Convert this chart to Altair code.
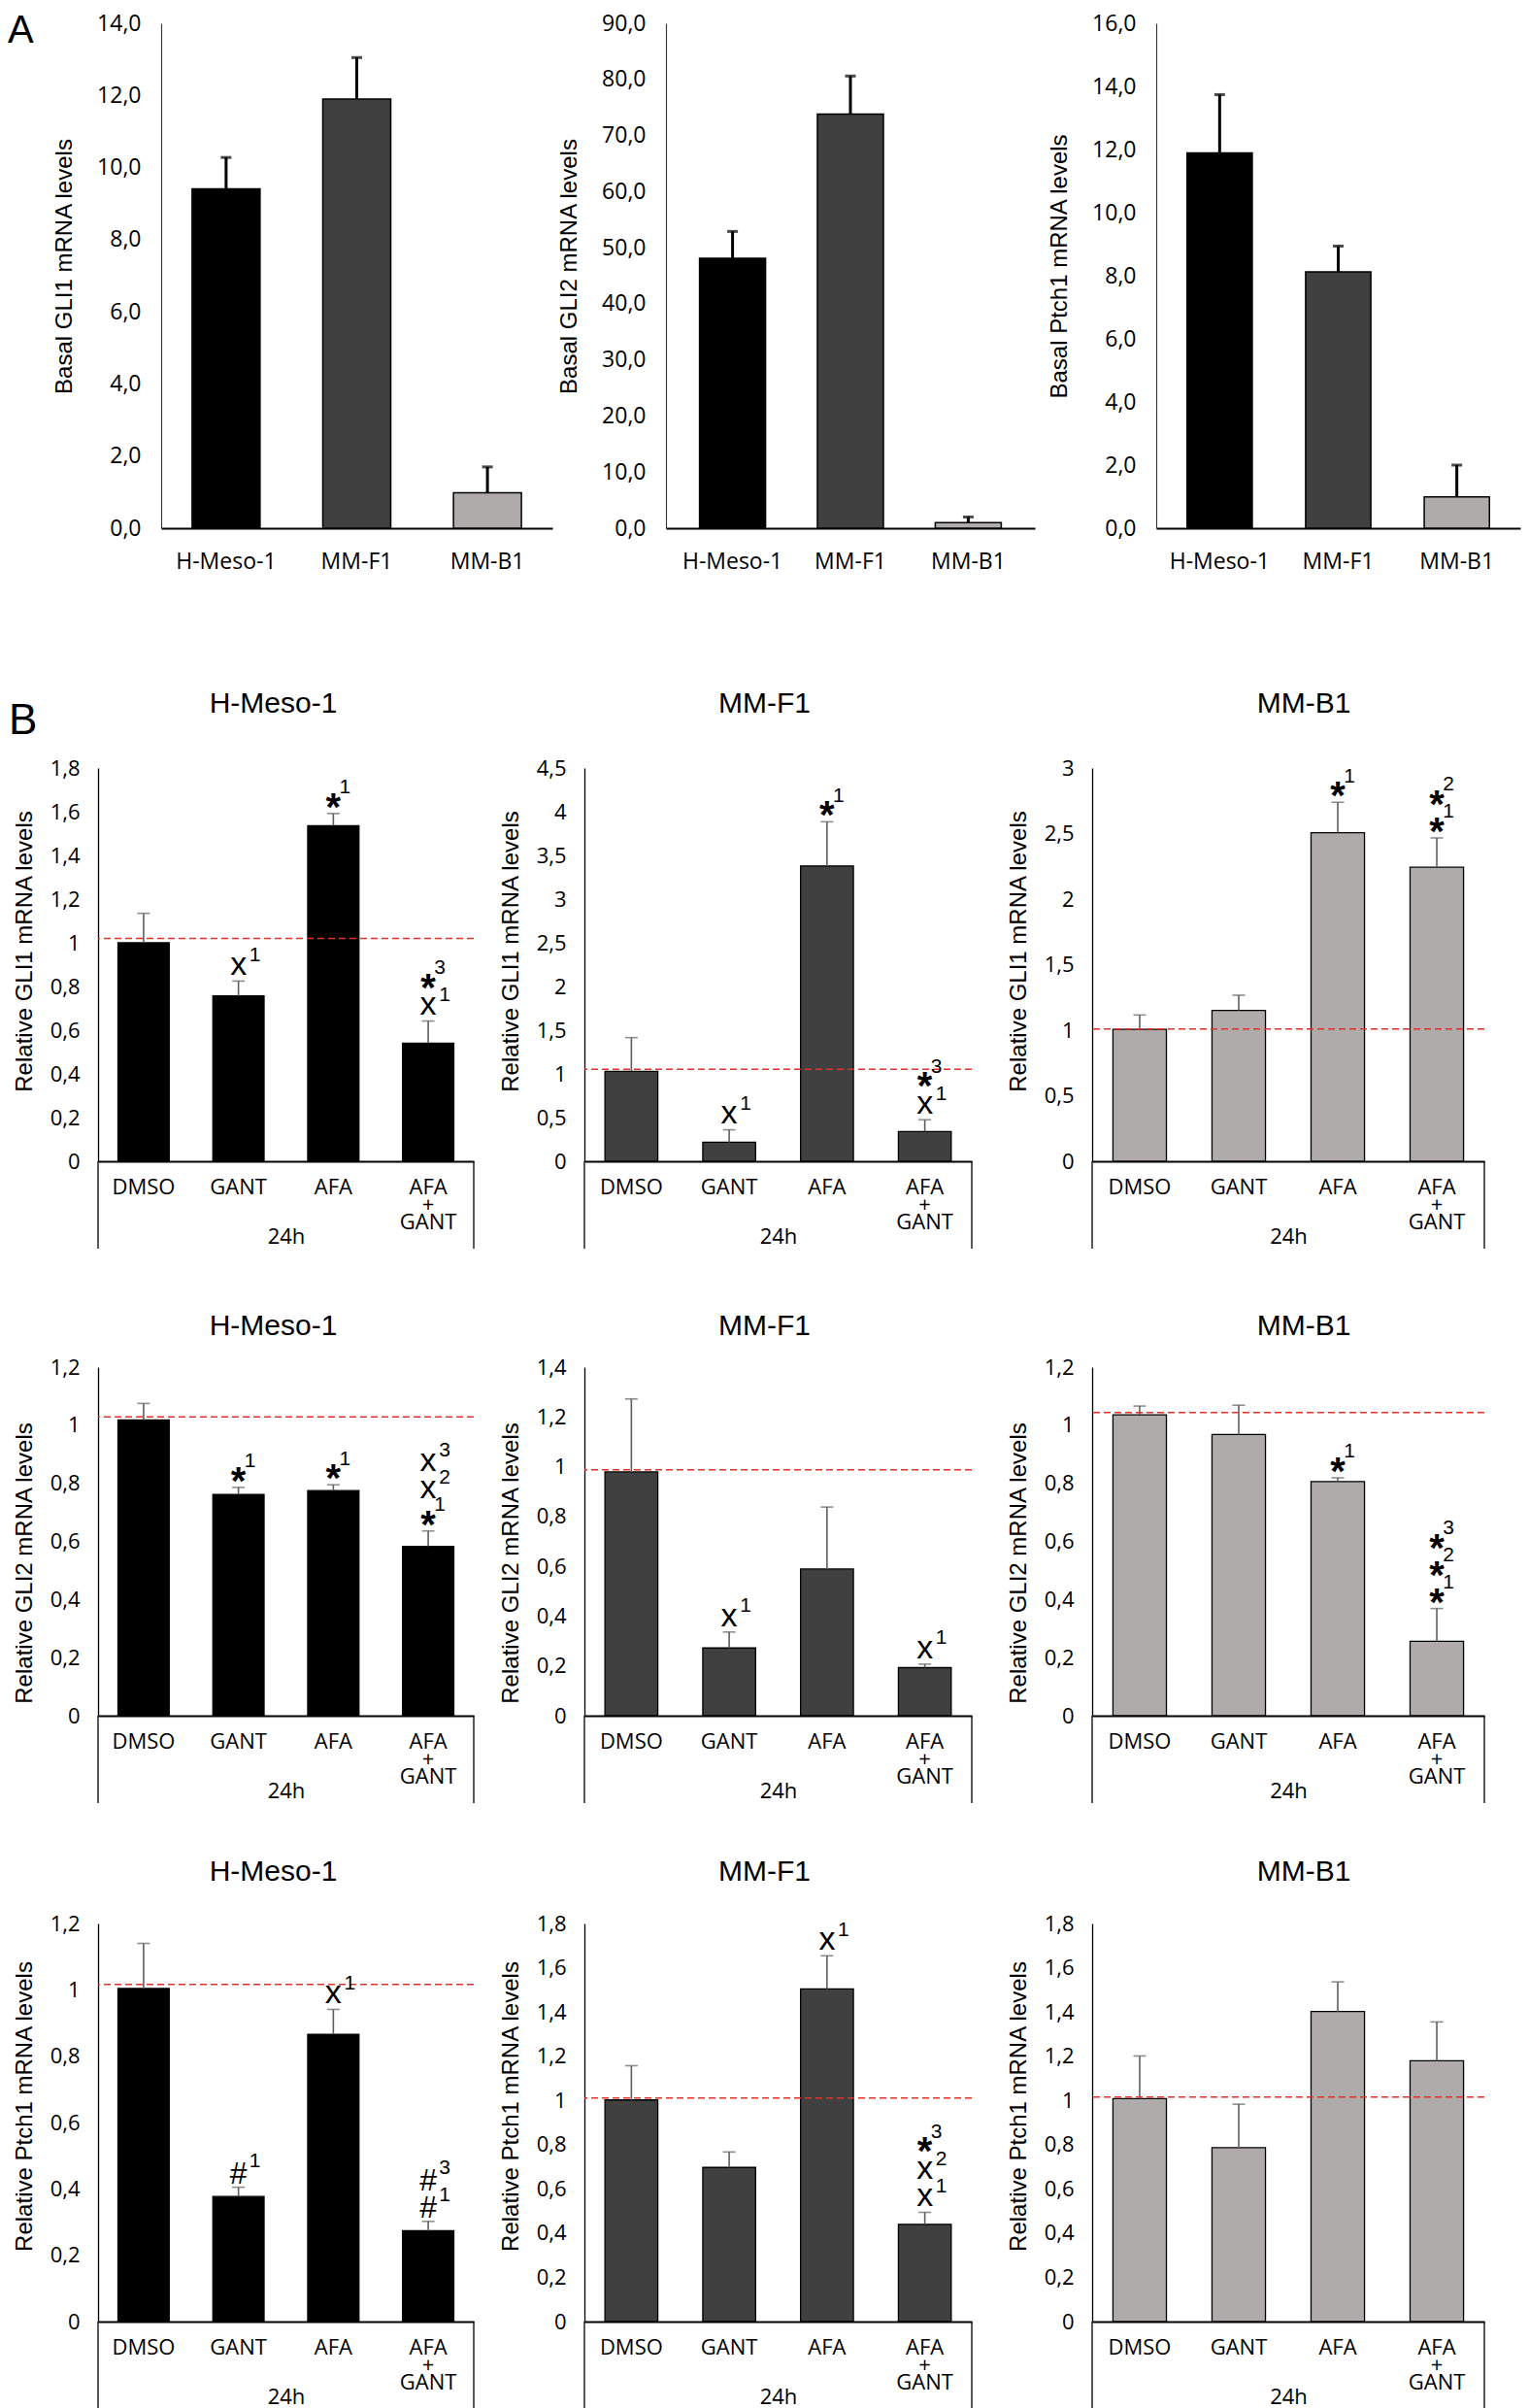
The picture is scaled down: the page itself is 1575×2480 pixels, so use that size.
import altair as alt
import pandas as pd

FONT_T = "Liberation Sans, Arial, sans-serif"
FONT_L = "Open Sans, Liberation Sans, sans-serif"

# ---------------- data ----------------
cells = ["H-Meso-1", "MM-F1", "MM-B1"]
cell_colors = ["#000000", "#404040", "#afabab"]
conds = ["DMSO", "GANT", "AFA", "AFA+GANT"]

# Panel A: basal mRNA levels (mean, upper end of error bar)
basal_gli1 = [9.41, 11.90, 0.98]
basal_gli1_top = [10.28, 13.05, 1.70]
basal_gli2 = [48.1, 73.8, 1.0]
basal_gli2_top = [52.9, 80.6, 2.0]
basal_ptch1 = [11.89, 8.12, 0.99]
basal_ptch1_top = [13.74, 8.94, 2.00]
basal_ticks_gli1 = [0, 2, 4, 6, 8, 10, 12, 14]
basal_ticks_gli2 = [0, 10, 20, 30, 40, 50, 60, 70, 80, 90]
basal_ticks_ptch1 = [0, 2, 4, 6, 8, 10, 12, 14, 16]

# Panel B: relative mRNA levels (DMSO, GANT, AFA, AFA+GANT)
gli1_hmeso = [1.00, 0.757, 1.536, 0.541]
gli1_hmeso_top = [1.135, 0.825, 1.592, 0.642]
gli1_mmf1 = [1.03, 0.218, 3.38, 0.34]
gli1_mmf1_top = [1.415, 0.36, 3.885, 0.475]
gli1_mmb1 = [1.006, 1.151, 2.507, 2.243]
gli1_mmb1_top = [1.116, 1.267, 2.739, 2.467]

gli2_hmeso = [1.018, 0.762, 0.775, 0.583]
gli2_hmeso_top = [1.075, 0.786, 0.795, 0.636]
gli2_mmf1 = [0.979, 0.272, 0.589, 0.193]
gli2_mmf1_top = [1.272, 0.336, 0.838, 0.207]
gli2_mmb1 = [1.036, 0.968, 0.806, 0.256]
gli2_mmb1_top = [1.066, 1.069, 0.819, 0.369]

ptch1_hmeso = [1.004, 0.377, 0.866, 0.274]
ptch1_hmeso_top = [1.14, 0.405, 0.941, 0.302]
ptch1_mmf1 = [1.002, 0.697, 1.504, 0.44]
ptch1_mmf1_top = [1.157, 0.767, 1.654, 0.494]
ptch1_mmb1 = [1.008, 0.786, 1.402, 1.179]
ptch1_mmb1_top = [1.201, 0.983, 1.536, 1.355]

ref_gli1 = [1.02, 1.054, 1.009]
ref_gli2 = [1.029, 0.988, 1.044]
ref_ptch1 = [1.016, 1.011, 1.015]

ticks_02_12 = [0, 0.2, 0.4, 0.6, 0.8, 1, 1.2]
ticks_02_14 = [0, 0.2, 0.4, 0.6, 0.8, 1, 1.2, 1.4]
ticks_02_18 = [0, 0.2, 0.4, 0.6, 0.8, 1, 1.2, 1.4, 1.6, 1.8]
ticks_05_30 = [0, 0.5, 1, 1.5, 2, 2.5, 3]
ticks_05_45 = [0, 0.5, 1, 1.5, 2, 2.5, 3, 3.5, 4, 4.5]

# significance marks per bar, listed bottom to top
ann_gli1_hmeso = [[], ["x1"], ["*1"], ["x1", "*3"]]
ann_gli1_mmf1 = [[], ["x1"], ["*1"], ["x1", "*3"]]
ann_gli1_mmb1 = [[], [], ["*1"], ["*1", "*2"]]
ann_gli2_hmeso = [[], ["*1"], ["*1"], ["*1", "x2", "x3"]]
ann_gli2_mmf1 = [[], ["x1"], [], ["x1"]]
ann_gli2_mmb1 = [[], [], ["*1"], ["*1", "*2", "*3"]]
ann_ptch1_hmeso = [[], ["#1"], ["x1"], ["#1", "#3"]]
ann_ptch1_mmf1 = [[], [], ["x1"], ["x1", "x2", "*3"]]
ann_ptch1_mmb1 = [[], [], [], []]

# ---------------- helpers ----------------
def comma(fmt):
    return "replace(format(datum.value, '%s'), '.', ',')" % fmt


def frame_layer(T, W, H, B):
    # invisible diagonal that fixes the extent of each panel for the grid layout
    return alt.Chart(pd.DataFrame({"f": [0]})).mark_rule(
        color="white", strokeOpacity=0.01, strokeWidth=0.2
    ).encode(x=alt.value(0), x2=alt.value(W), y=alt.value(-T), y2=alt.value(H + B))


def spacer(w):
    return alt.Chart(pd.DataFrame({"f": [0]})).mark_point(opacity=0).encode(
        x=alt.value(0), y=alt.value(0)).properties(width=w, height=1)


ANN_STYLE = {
    "x": dict(size=34, weight="normal", mid=8.8, dx=17),
    "#": dict(size=32, weight="normal", mid=11.2, dx=17),
    "*": dict(size=40, weight="bold", mid=22.0, dx=12),
}
LEVEL_BASE, LEVEL_STEP, SUP_RISE, SUP_SIZE, SUP_MID = 15, 28, 13, 21, 7.5


def ann_layers(anns, tops, X, Y):
    rows = []
    for i, stack in enumerate(anns):
        for k, s in enumerate(stack):
            rows.append({"cond": conds[i], "top": tops[i], "sym": s[0], "sup": s[1:], "level": k})
    layers = []
    if not rows:
        return layers
    df = pd.DataFrame(rows)
    for sym, st in ANN_STYLE.items():
        for k in range(3):
            sub = df[(df["sym"] == sym) & (df["level"] == k)].reset_index(drop=True)
            if sub.empty:
                continue
            c = LEVEL_BASE + LEVEL_STEP * k
            layers.append(alt.Chart(sub).mark_text(
                font=FONT_T, fontSize=st["size"], fontWeight=st["weight"], baseline="alphabetic",
                align="center", color="black", dy=-(c - st["mid"])
            ).encode(x=X, y=Y("top"), text="sym:N"))
            layers.append(alt.Chart(sub).mark_text(
                font=FONT_T, fontSize=SUP_SIZE, baseline="alphabetic", align="center",
                color="black", dx=st["dx"], dy=-(c + SUP_RISE - SUP_MID)
            ).encode(x=X, y=Y("top"), text="sup:N"))
    return layers


def rel_chart(gene, ci, vals, tops, ref, ticks, anns, W, row, letter=False):
    H, T, Bf, box, head_c, ydy = row
    df = pd.DataFrame({"cond": conds, "val": vals, "top": tops})
    ymax = ticks[-1]
    xs = alt.Scale(domain=conds, paddingInner=0.46, paddingOuter=0.21)
    xa = alt.Axis(
        title="24h", labelAngle=0, ticks=False, domainColor="black", domainWidth=2,
        labelFont=FONT_L, labelFontSize=22, labelColor="black", labelPadding=16,
        labelBaseline="top", labelLineHeight=18,
        labelExpr="datum.label == 'AFA+GANT' ? ['AFA', '+', 'GANT'] : datum.label",
        titleFont=FONT_L, titleFontSize=22, titleFontWeight="normal", titleColor="black",
        titleY=84, titleBaseline="alphabetic",
    )
    ytitle = "Relative %s mRNA levels" % gene
    ys = alt.Scale(domain=[0, ymax], nice=False, zero=True)
    ya = alt.Axis(
        values=ticks, labelExpr=comma(".2~f"), grid=False, ticks=False,
        domainColor="black", domainWidth=1.3, labelFont=FONT_L, labelFontSize=22,
        labelColor="black", labelPadding=19, title=ytitle, titleFont=FONT_T,
        titleFontSize=24, titleFontWeight="normal", titleColor="black", titleAngle=270,
        titleX=-76, titleY=H / 2 + ydy, titleBaseline="middle", titleAlign="center",
    )
    X = alt.X("cond:N", scale=xs, axis=xa, title="24h")

    def Y(f):
        return alt.Y("%s:Q" % f, scale=ys, axis=ya, title=ytitle)

    color = cell_colors[ci]
    one = pd.DataFrame({"f": [0]})
    head_dx = [-13, -14, 16][ci]
    layers = [
        frame_layer(T, W, H, Bf),
        alt.Chart(df).mark_bar(color=color, stroke="black", strokeWidth=1.3).encode(x=X, y=Y("val")),
        alt.Chart(df).mark_rule(color="#5f5f5f", strokeWidth=1.6).encode(x=X, y=Y("val"), y2=alt.Y2("top:Q")),
        alt.Chart(df).mark_tick(color="#5f5f5f", thickness=1.6, size=13, orient="horizontal").encode(x=X, y=Y("top")),
        alt.Chart(pd.DataFrame({"ref": [ref]})).mark_rule(
            color="#e2312b", strokeDash=[7, 4], strokeWidth=1.5).encode(y=Y("ref")),
        alt.Chart(one).mark_rule(color="black", strokeWidth=1.3).encode(
            x=alt.value(0), y=alt.value(H), y2=alt.value(H + box)),
        alt.Chart(one).mark_rule(color="black", strokeWidth=1.3).encode(
            x=alt.value(W), y=alt.value(H), y2=alt.value(H + box)),
        # panel heading (cell line)
        alt.Chart(one).mark_text(
            text=cells[ci], font=FONT_T, fontSize=30, align="center", baseline="alphabetic", color="black"
        ).encode(x=alt.value(W / 2 + head_dx), y=alt.value(-(head_c - 10.7))),
    ]
    layers += ann_layers(anns, tops, X, Y)
    if letter:
        layers.append(alt.Chart(one).mark_text(
            text="B", font=FONT_T, fontSize=44, align="left", baseline="alphabetic", color="black"
        ).encode(x=alt.value(-92), y=alt.value(-35)))
    return alt.layer(*layers).properties(width=W, height=H)


def basal_chart(gene, vals, tops, ticks, W, pi, po, letter=False):
    H, T, Bf = 520, 15, 146
    df = pd.DataFrame({"cell": cells, "val": vals, "top": tops})
    ymax = ticks[-1]
    xs = alt.Scale(domain=cells, paddingInner=pi, paddingOuter=po)
    xa = alt.Axis(
        title=None, labelAngle=0, ticks=False, domainColor="black", domainWidth=2,
        labelFont=FONT_L, labelFontSize=23, labelColor="black", labelPadding=23,
        labelBaseline="top",
    )
    ytitle = "Basal %s mRNA levels" % gene
    ys = alt.Scale(domain=[0, ymax], nice=False, zero=True)
    ya = alt.Axis(
        values=ticks, labelExpr=comma(".1f"), grid=False, ticks=False,
        domainColor="#333333", domainWidth=1.1, labelFont=FONT_L, labelFontSize=23,
        labelColor="black", labelPadding=21, title=ytitle, titleFont=FONT_T,
        titleFontSize=24, titleFontWeight="normal", titleColor="black", titleAngle=270,
        titleX=-100, titleY=H / 2 - 10, titleBaseline="middle", titleAlign="center",
    )
    X = alt.X("cell:N", scale=xs, axis=xa, title=None)

    def Y(f):
        return alt.Y("%s:Q" % f, scale=ys, axis=ya, title=ytitle)

    one = pd.DataFrame({"f": [0]})
    layers = [
        frame_layer(T, W, H, Bf),
        alt.Chart(df).mark_bar(stroke="black", strokeWidth=1.5).encode(
            x=X, y=Y("val"),
            color=alt.Color("cell:N", scale=alt.Scale(domain=cells, range=cell_colors), legend=None)),
        alt.Chart(df).mark_rule(color="black", strokeWidth=3).encode(x=X, y=Y("val"), y2=alt.Y2("top:Q")),
        alt.Chart(df).mark_tick(color="black", thickness=3, size=11, orient="horizontal").encode(x=X, y=Y("top")),
    ]
    if letter:
        layers.append(alt.Chart(one).mark_text(
            text="A", font=FONT_T, fontSize=40, align="left", baseline="alphabetic", color="black"
        ).encode(x=alt.value(-158), y=alt.value(20)))
    return alt.layer(*layers).properties(width=W, height=H)


# ---------------- layout ----------------
rowA = alt.hconcat(
    spacer(65),
    basal_chart("GLI1", basal_gli1, basal_gli1_top, basal_ticks_gli1, 403, 0.48, 0.237, letter=True),
    spacer(117),
    basal_chart("GLI2", basal_gli2, basal_gli2_top, basal_ticks_gli2, 380, 0.44, 0.285),
    spacer(125),
    basal_chart("Ptch1", basal_ptch1, basal_ptch1_top, basal_ticks_ptch1, 375, 0.45, 0.26),
    spacing=0, bounds="flush",
)

# (plot height, top frame, bottom frame, box depth, heading centre above plot, y-title shift)
ROW1 = (405, 99, 144, 90, 68, -14)
ROW2 = (359, 66, 135, 90, 43.5, 22)
ROW3 = (410, 77, 89, 89, 54.5, -17)
COL_W = [387, 399, 404]
COL_GAP = [114, 124]


def rel_row(gene, vals, tops, refs, ticks, anns, row, first=False):
    items = []
    for ci in range(3):
        items.append(rel_chart(gene, ci, vals[ci], tops[ci], refs[ci], ticks[ci], anns[ci],
                               COL_W[ci], row, letter=(first and ci == 0)))
        if ci < 2:
            items.append(spacer(COL_GAP[ci]))
    return alt.hconcat(*items, spacing=0, bounds="flush")


rowB1 = rel_row("GLI1", [gli1_hmeso, gli1_mmf1, gli1_mmb1],
                [gli1_hmeso_top, gli1_mmf1_top, gli1_mmb1_top], ref_gli1,
                [ticks_02_18, ticks_05_45, ticks_05_30],
                [ann_gli1_hmeso, ann_gli1_mmf1, ann_gli1_mmb1], ROW1, first=True)
rowB2 = rel_row("GLI2", [gli2_hmeso, gli2_mmf1, gli2_mmb1],
                [gli2_hmeso_top, gli2_mmf1_top, gli2_mmb1_top], ref_gli2,
                [ticks_02_12, ticks_02_14, ticks_02_12],
                [ann_gli2_hmeso, ann_gli2_mmf1, ann_gli2_mmb1], ROW2)
rowB3 = rel_row("Ptch1", [ptch1_hmeso, ptch1_mmf1, ptch1_mmb1],
                [ptch1_hmeso_top, ptch1_mmf1_top, ptch1_mmb1_top], ref_ptch1,
                [ticks_02_12, ticks_02_18, ticks_02_18],
                [ann_ptch1_hmeso, ann_ptch1_mmf1, ann_ptch1_mmb1], ROW3)

chart = alt.vconcat(rowA, rowB1, rowB2, rowB3, spacing=0).properties(
    padding=0, background="white"
).configure_view(stroke=None)

chart.save("out.html", embed_options={"renderer": "svg", "actions": False})
